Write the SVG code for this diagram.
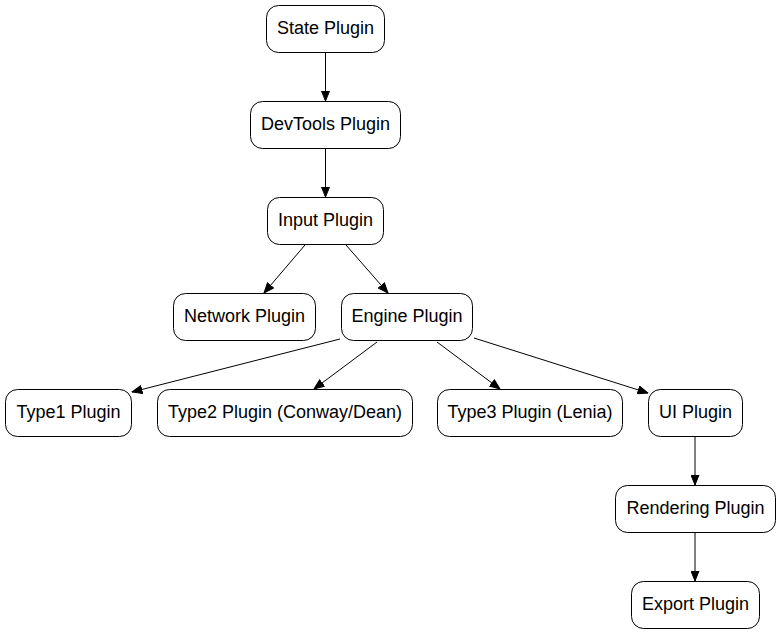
<svg xmlns="http://www.w3.org/2000/svg" width="781" height="635" viewBox="0 0 781 635">
<style>
.n rect{fill:#fff;stroke:#000;stroke-width:1}
.n text{font-family:"Liberation Sans",Arial,sans-serif;font-size:18px;fill:#000;text-anchor:middle}
#edges line{stroke:#000;stroke-width:1;marker-end:url(#ah)}
</style>
<defs>
<marker id="ah" markerUnits="userSpaceOnUse" markerWidth="11" markerHeight="9" refX="10.5" refY="4.5" orient="auto" viewBox="0 0 11 9">
<path d="M0.5,0.5 L10.5,4.5 L0.5,8.5 Z" fill="#000" stroke="#000" stroke-width="1"/>
</marker>
</defs>
<rect width="781" height="635" fill="#fff"/>
<g id="edges">
<line x1="325.5" y1="52" x2="325.5" y2="101"/>
<line x1="325.5" y1="148" x2="325.5" y2="197"/>
<line x1="305" y1="245" x2="264" y2="293"/>
<line x1="346" y1="245" x2="388" y2="293"/>
<line x1="340" y1="339" x2="132" y2="392"/>
<line x1="377" y1="342" x2="314" y2="389"/>
<line x1="437" y1="342" x2="500" y2="389"/>
<line x1="474" y1="338" x2="648" y2="393"/>
<line x1="695" y1="437" x2="695" y2="485"/>
<line x1="695" y1="533" x2="695" y2="581"/>
</g>
<g id="state" class="n"><rect x="266.5" y="5.5" width="118" height="47" rx="12"/><text x="325.5" y="33.5">State Plugin</text></g>
<g id="devtools" class="n"><rect x="250.5" y="101.5" width="150" height="47" rx="12"/><text x="325.5" y="129.5">DevTools Plugin</text></g>
<g id="input" class="n"><rect x="267.5" y="197.5" width="116" height="47" rx="12"/><text x="325.5" y="225.5">Input Plugin</text></g>
<g id="network" class="n"><rect x="173.5" y="293.5" width="142" height="47" rx="12"/><text x="244.5" y="321.5">Network Plugin</text></g>
<g id="engine" class="n"><rect x="341.5" y="293.5" width="131" height="47" rx="12"/><text x="407" y="321.5">Engine Plugin</text></g>
<g id="type1" class="n"><rect x="5.5" y="389.5" width="126" height="47" rx="12"/><text x="68.5" y="417.5">Type1 Plugin</text></g>
<g id="type2" class="n"><rect x="157.5" y="389.5" width="255" height="47" rx="12"/><text x="285" y="417.5">Type2 Plugin (Conway/Dean)</text></g>
<g id="type3" class="n"><rect x="437.5" y="389.5" width="185" height="47" rx="12"/><text x="530" y="417.5">Type3 Plugin (Lenia)</text></g>
<g id="ui" class="n"><rect x="648.5" y="389.5" width="94" height="47" rx="12"/><text x="695.5" y="417.5">UI Plugin</text></g>
<g id="rendering" class="n"><rect x="615.5" y="485.5" width="160" height="47" rx="12"/><text x="695.5" y="513.5">Rendering Plugin</text></g>
<g id="export" class="n"><rect x="631.5" y="581.5" width="128" height="47" rx="12"/><text x="695.5" y="609.5">Export Plugin</text></g>
</svg>
